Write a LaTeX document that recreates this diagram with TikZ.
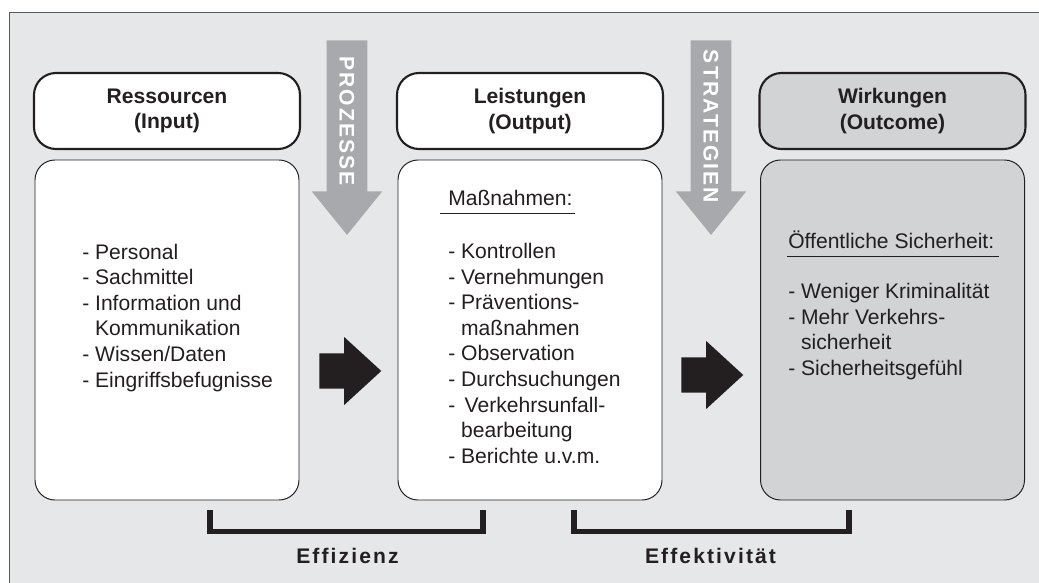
\documentclass[tikz,border=0pt]{standalone}
\usepackage{fontspec}
\setmainfont{Liberation Sans}
\newfontfamily\spacedfont[LetterSpace=10]{Liberation Sans}
\usetikzlibrary{shapes.arrows}
\definecolor{FrameColor}{HTML}{E6E7E8}
\definecolor{FrameLine}{HTML}{58595B}
\definecolor{TextColor}{HTML}{231F20}
\definecolor{OutcomeColor}{HTML}{D1D3D4}
\definecolor{ArrowGrey}{HTML}{A7A9AC}
\tikzstyle{head_box}=[rectangle,
                        minimum width=6.65cm,
                        minimum height=1.9cm,
                        draw=TextColor,
                        line width=1.5pt,
                        rounded corners=0.55cm,
                        align=center,
                        font=\bfseries\fontsize{15}{18.1}\selectfont, ]
\tikzstyle{body_box}=[rectangle,
                        minimum width=6.6cm,
                        minimum height=8.5cm,
                        draw=TextColor,
                        line width=0.7pt,
                        rounded corners=0.5cm, ]
\tikzstyle{list_item}=[anchor=base west, inner sep=0pt]
\tikzstyle{flow_arrow}=[single arrow,
                        fill=ArrowGrey,
                        minimum height=1.75cm,
                        single arrow head extend=0.375cm,
                        single arrow tip angle=78,
                        inner xsep=2.1125cm,
                        inner ysep=0.5cm,
                        rotate=-90, ]
\tikzstyle{flow_label}=[rotate=-90, inner sep=0pt, text=white,
                        font=\spacedfont\bfseries\fontsize{15}{18}\selectfont, ]
\tikzstyle{step_arrow}=[single arrow,
                        fill=TextColor,
                        minimum height=1.55cm,
                        minimum width=1.7cm,
                        single arrow head extend=0.375cm,
                        single arrow tip angle=85,
                        inner xsep=0pt,
                        inner ysep=0.4cm, ]
\tikzstyle{bracket}=[draw=TextColor, line width=4pt]
\tikzstyle{bracket_label}=[anchor=base, inner sep=0pt,
                        font=\spacedfont\bfseries\fontsize{15}{18}\selectfont]

\begin{document}
\begin{tikzpicture}[text=TextColor, font=\fontsize{15}{18.1}\selectfont]
    \useasboundingbox (0cm, 0cm) rectangle (25.975cm, -14.575cm);
    % ---------------------------------------------------------------------------------------------------------
    %  Rahmen
    \coordinate (frame-b) at (0.225cm, -14.575cm);
    \coordinate (frame-tl) at (0.225cm, -0.3cm);
    \coordinate (frame-r) at (25.975cm, -0.3cm);
    \fill[FrameColor] (frame-tl) rectangle (25.975cm, -14.575cm);
    \draw[FrameLine, line width=0.7pt] (frame-b) -- (frame-tl) -- (frame-r);

    % ---------------------------------------------------------------------------------------------------------
    %  Kopf- und Inhaltsboxen
    \node at (4.175cm, -2.775cm) (HeadIn) [head_box, fill=white] {Ressourcen\\(Input)};
    \node at (13.25cm, -2.775cm) (HeadOut) [head_box, fill=white] {Leistungen\\(Output)};
    \node at (22.3125cm, -2.775cm) (HeadEff) [head_box, fill=OutcomeColor] {Wirkungen\\(Outcome)};

    \node at (4.175cm, -8.25cm) (BodyIn) [body_box, fill=white] {};
    \node at (13.25cm, -8.25cm) (BodyOut) [body_box, fill=white] {};
    \node at (22.3125cm, -8.25cm) (BodyEff) [body_box, fill=OutcomeColor] {};

    % ---------------------------------------------------------------------------------------------------------
    %  Listen
    \foreach \txt [count=\li] in {- Personal, - Sachmittel, - Information und, \phantom{- }Kommunikation,
                                   - Wissen/Daten, - Eingriffsbefugnisse} {
        \node at (2.05cm, -6.475cm - 0.64cm * \li + 0.64cm) (In\li) [list_item] {\txt};
    }

    \node at (11.2cm, -5.1425cm) (MassHead) [list_item] {Maßnahmen:};
    \draw[TextColor, line width=0.7pt] ([xshift=-0.2cm, yshift=-0.19cm]MassHead.base west) -- ([xshift=0.05cm, yshift=-0.19cm]MassHead.base east);
    \foreach \txt [count=\li] in {- Kontrollen, - Vernehmungen, - Präventions-, \phantom{- }maßnahmen, - Observation,
                                   - Durchsuchungen, - \,Verkehrsunfall-, \phantom{- }bearbeitung, - Berichte u.v.m.} {
        \node at (11.2cm, -6.46cm - 0.64cm * \li + 0.64cm) (Out\li) [list_item] {\txt};
    }

    \node at (19.7cm, -6.2075cm) (SafeHead) [list_item] {Öffentliche Sicherheit:};
    \draw[TextColor, line width=0.7pt] ([xshift=-0.025cm, yshift=-0.21cm]SafeHead.base west) -- ([xshift=0.125cm, yshift=-0.21cm]SafeHead.base east);
    \foreach \txt [count=\li] in {- Weniger Kriminalität, - Mehr Verkehrs-, \phantom{- }sicherheit, - Sicherheitsgefühl} {
        \node at (19.7cm, -7.46cm - 0.64cm * \li + 0.64cm) (Eff\li) [list_item] {\txt};
    }

    % ---------------------------------------------------------------------------------------------------------
    %  Pfeile
    \node at (8.675cm, -1.0cm) (ArrowProc) [flow_arrow, anchor=tail] {};
    \node at (17.775cm, -1.0cm) (ArrowStrat) [flow_arrow, anchor=tail] {};
    \node at (8.675cm, -3.025cm) (ProcLabel) [flow_label] {PROZESSE};
    \node at (17.775cm, -3.1625cm) (StratLabel) [flow_label] {STRATEGIEN};

    \node at (7.975cm, -9.275cm) (StepOne) [step_arrow, anchor=tail] {};
    \node at (17.025cm, -9.375cm) (StepTwo) [step_arrow, anchor=tail] {};

    % ---------------------------------------------------------------------------------------------------------
    %  Klammern
    \coordinate (effi-l) at (5.25cm, -12.75cm);
    \coordinate (effi-r) at (12.0825cm, -12.75cm);
    \draw[bracket] (effi-l) -- ++(0cm, -0.54cm) -| (effi-r);
    \node at (8.6875cm, -14.0825cm) (EffiLabel) [bracket_label] {Effizienz};

    \coordinate (effk-l) at (14.345cm, -12.75cm);
    \coordinate (effk-r) at (21.22cm, -12.75cm);
    \draw[bracket] (effk-l) -- ++(0cm, -0.54cm) -| (effk-r);
    \node at (17.7625cm, -14.0825cm) (EffkLabel) [bracket_label] {Effektivität};
\end{tikzpicture}
\end{document}
